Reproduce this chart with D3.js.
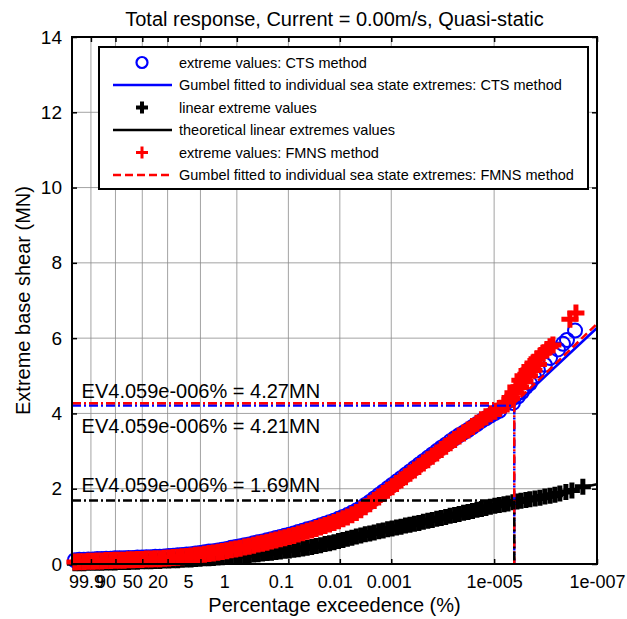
<!DOCTYPE html>
<html>
<head>
<meta charset="utf-8">
<script src="https://d3js.org/d3.v7.min.js"></script>
<style>
  body { margin: 0; background: #fff; }
  svg { font-family: "Liberation Sans", Arial, Helvetica, sans-serif; }
  .tick text { white-space: pre; }
</style>
</head>
<body>
<svg id="chart" width="627" height="619"></svg>
<script>
// x values are Gumbel reduced variates, -ln(-ln(1 - p/100))
const denseX = [
  -2.65,-2.45,-2.25,-2.05,-1.85,-1.65,-1.45,-1.25,-1.05,-0.85,
  -0.65,-0.45,-0.25,-0.05,0.15,0.35,0.55,0.75,0.95,1.15,
  1.35,1.55,1.75,1.95,2.15,2.35,2.55,2.75,2.95,3.15,
  3.35,3.55,3.75,3.95,4.15,4.35,4.55,4.75,4.95,5.15,
  5.35,5.55,5.75,5.95,6.15,6.35,6.55,6.75,6.95,7.15,
  7.35,7.55,7.75,7.95,8.15,8.35,8.55,8.75,8.95,9.15,
  9.35,9.55,9.75,9.95,10.15,10.35,10.55,10.75,10.95,11.15,
  11.35,11.55,11.75,11.95,12.15,12.35,12.55,12.75,12.95,13.15,
  13.35,13.55,13.75,13.95,14.15,14.35,14.55,14.75,14.95,15.15,
  15.35,15.55,15.75,15.95,16.15,16.35
];
const ctsValues = [
  0.10,0.11,0.11,0.12,0.12,0.13,0.13,0.14,0.14,0.15,
  0.15,0.15,0.16,0.16,0.17,0.17,0.18,0.18,0.19,0.19,
  0.20,0.21,0.22,0.23,0.24,0.25,0.26,0.28,0.29,0.31,
  0.33,0.34,0.36,0.38,0.40,0.43,0.45,0.47,0.50,0.52,
  0.55,0.58,0.60,0.63,0.66,0.69,0.72,0.75,0.78,0.81,
  0.85,0.88,0.92,0.95,0.99,1.03,1.07,1.11,1.15,1.20,
  1.25,1.30,1.36,1.42,1.49,1.57,1.65,1.74,1.83,1.92,
  2.01,2.10,2.19,2.28,2.37,2.46,2.55,2.64,2.73,2.82,
  2.91,3.00,3.09,3.17,3.26,3.34,3.42,3.49,3.56,3.64,
  3.72,3.80,3.87,3.94,4.01,4.07
];
const fmnsValues = [
  0.05,0.06,0.06,0.07,0.07,0.08,0.08,0.09,0.09,0.10,
  0.10,0.10,0.11,0.11,0.12,0.12,0.13,0.13,0.14,0.14,
  0.15,0.16,0.17,0.18,0.19,0.20,0.21,0.23,0.24,0.26,
  0.28,0.29,0.31,0.33,0.35,0.38,0.40,0.42,0.45,0.47,
  0.50,0.53,0.55,0.58,0.61,0.64,0.67,0.70,0.73,0.76,
  0.80,0.83,0.87,0.90,0.94,0.98,1.02,1.06,1.10,1.15,
  1.20,1.25,1.31,1.37,1.44,1.52,1.60,1.69,1.78,1.87,
  1.96,2.05,2.14,2.23,2.32,2.41,2.50,2.59,2.68,2.77,
  2.86,2.95,3.04,3.13,3.22,3.31,3.40,3.48,3.56,3.65,
  3.74,3.83,3.91,3.99,4.06,4.13
];
const linearValues = [
  0.02,0.02,0.02,0.03,0.03,0.03,0.03,0.04,0.04,0.04,
  0.05,0.05,0.05,0.06,0.06,0.07,0.07,0.07,0.08,0.08,
  0.09,0.09,0.10,0.10,0.11,0.12,0.12,0.13,0.14,0.15,
  0.15,0.16,0.17,0.18,0.19,0.20,0.21,0.22,0.23,0.24,
  0.25,0.26,0.28,0.29,0.30,0.32,0.33,0.35,0.36,0.38,
  0.39,0.41,0.43,0.45,0.48,0.50,0.53,0.55,0.58,0.61,
  0.64,0.67,0.70,0.73,0.76,0.79,0.81,0.84,0.87,0.89,
  0.92,0.94,0.97,0.99,1.02,1.04,1.07,1.09,1.12,1.15,
  1.17,1.20,1.22,1.25,1.28,1.30,1.33,1.36,1.38,1.41,
  1.44,1.46,1.49,1.52,1.55,1.57
];

// sparse upper tails
const ctsTailX = [16.96,17.18,17.36,17.54,17.72,17.90,18.08,18.39,18.62,18.98,19.20,19.38,19.74];
const ctsTailValues = [4.28,4.45,4.57,4.70,4.80,4.98,5.15,5.29,5.47,5.70,5.85,5.95,6.20];
const fmnsTailX = [16.56,16.69,16.70,16.83,16.90,16.96,17.09,17.10,17.27,17.30,17.41,17.50,17.59,17.70,17.72,17.86,17.90,18.04,18.10,18.17,18.30,18.48,18.62,18.75,19.51,19.78];
const fmnsTailValues = [4.22,4.30,4.25,4.42,4.40,4.55,4.70,4.55,4.88,4.70,5.00,4.85,5.14,5.00,5.25,5.34,5.15,5.45,5.30,5.52,5.60,5.70,5.77,5.82,6.50,6.67];
const linearTailX = [16.56,16.74,16.96,17.14,17.32,17.54,17.72,17.95,18.17,18.39,18.62,18.84,19.06,19.33,19.60,20.09];
const linearTailValues = [1.59,1.61,1.64,1.66,1.68,1.70,1.72,1.74,1.76,1.79,1.81,1.84,1.87,1.91,1.95,2.05];

// fitted / theoretical curves
const fitX = [-2.78,-1,1,3,5,7,9,11,13,14.5,15.27,16,17.02,18.5,20.72];
const ctsFit = [0.07,0.11,0.15,0.26,0.47,0.74,1.08,1.76,2.68,3.30,3.60,3.90,4.21,5.04,6.27];
const fmnsFit = [0.06,0.10,0.14,0.25,0.47,0.74,1.08,1.77,2.70,3.34,3.66,3.95,4.27,5.11,6.38];
const linearTheory = [0.02,0.04,0.08,0.14,0.23,0.36,0.59,0.88,1.15,1.34,1.44,1.54,1.69,1.84,2.12];

// extreme value at the target exceedance
const evPct = 4.059e-6;
const evPctLabel = "4.059e-006";
const evCts = 4.21, evFmns = 4.27, evLinear = 1.69;

const xTickPct = [99.9, 90, 50, 20, 5, 1, 0.1, 0.01, 0.001, 1e-5, 1e-7];
const xTickLabels = ["99.9","90","50","20","5","1","0.1","0.01","0.001","1e-005","1e-007"];
const yTicks = [0, 2, 4, 6, 8, 10, 12, 14];

const legendLabels = [
  "extreme values: CTS method",
  "Gumbel fitted to individual sea state extremes: CTS method",
  "linear extreme values",
  "theoretical linear extremes values",
  "extreme values: FMNS method",
  "Gumbel fitted to individual sea state extremes: FMNS method"
];

const gumbel = (pct) => -Math.log(-Math.log1p(-pct / 100));

const margin = { top: 37, right: 30, bottom: 55, left: 72 };
const width = 627, height = 619;
const svg = d3.select("#chart");

const x = d3.scaleLinear()
  .domain([gumbel(99.99999), gumbel(1e-7)])
  .range([margin.left, width - margin.right]);
const y = d3.scaleLinear()
  .domain([0, 14])
  .range([height - margin.bottom, margin.top]);

const BLUE = "#0000ff", RED = "#ff0000", BLACK = "#000";
const DASHDOT = "9,3,2,3";

// grid
const grid = svg.append("g").attr("stroke", "#8c8c8c").attr("stroke-width", 0.8);
grid.selectAll(".gx").data(xTickPct.slice(0, -1)).join("line")
  .attr("x1", d => x(gumbel(d))).attr("x2", d => x(gumbel(d)))
  .attr("y1", y(0)).attr("y2", y(14));
grid.selectAll(".gy").data(yTicks.slice(1, -1)).join("line")
  .attr("x1", x.range()[0]).attr("x2", x.range()[1])
  .attr("y1", d => y(d)).attr("y2", d => y(d));

const plusPath = h => `M${-h},0H${h}M0,${-h}V${h}`;
const zip = (xs, vs) => xs.map((d, i) => [d, vs[i]]);
const line = d3.line().x(d => x(d[0])).y(d => y(d[1]));

const plot = svg.append("g");

// CTS circles
plot.append("g").selectAll("circle")
  .data(zip(denseX, ctsValues).concat(zip(ctsTailX, ctsTailValues)))
  .join("circle")
  .attr("cx", d => x(d[0])).attr("cy", d => y(d[1])).attr("r", 7)
  .attr("fill", "none").attr("stroke", BLUE).attr("stroke-width", 2);

plot.append("path").datum(zip(fitX, ctsFit)).attr("d", line)
  .attr("fill", "none").attr("stroke", BLUE).attr("stroke-width", 2.5);

// linear markers
plot.append("g").selectAll("path")
  .data(zip(denseX, linearValues).concat(zip(linearTailX, linearTailValues)))
  .join("path")
  .attr("transform", d => `translate(${x(d[0])},${y(d[1])})`)
  .attr("d", plusPath(8)).attr("stroke", BLACK).attr("stroke-width", 5);

plot.append("path").datum(zip(fitX, linearTheory)).attr("d", line)
  .attr("fill", "none").attr("stroke", BLACK).attr("stroke-width", 2.5);

// FMNS markers
plot.append("g").selectAll("path")
  .data(zip(denseX, fmnsValues).concat(zip(fmnsTailX, fmnsTailValues)))
  .join("path")
  .attr("transform", d => `translate(${x(d[0])},${y(d[1])})`)
  .attr("d", plusPath(8.5)).attr("stroke", RED).attr("stroke-width", 5);

plot.append("path").datum(zip(fitX, fmnsFit)).attr("d", line)
  .attr("fill", "none").attr("stroke", RED).attr("stroke-width", 2.5)
  .attr("stroke-dasharray", "8,4");

// EV reference lines
const evX = gumbel(evPct);
const evs = [
  { v: evCts, color: BLUE, dy: 27 },
  { v: evFmns, color: RED, dy: -5 },
  { v: evLinear, color: BLACK, dy: -8 }
];
evs.forEach(e => {
  svg.append("path")
    .attr("d", `M${x.range()[0]},${y(e.v)}H${x(evX)}`)
    .attr("stroke", e.color).attr("stroke-width", 2.5).attr("fill", "none")
    .attr("stroke-dasharray", DASHDOT);
});
evs.forEach(e => {
  svg.append("path")
    .attr("d", `M${x(evX)},${y(e.v)}V${y(0)}`)
    .attr("stroke", e.color).attr("stroke-width", 2.5).attr("fill", "none")
    .attr("stroke-dasharray", DASHDOT);
});
svg.append("g").selectAll("text").data(evs).join("text")
  .attr("x", x(-2.35)).attr("y", d => y(d.v) + d.dy)
  .attr("font-size", 20)
  .text(d => `EV${evPctLabel}% = ${d.v.toFixed(2)}MN`);

// axes
const xAxis = d3.axisBottom(x)
  .tickValues(xTickPct.map(gumbel))
  .tickFormat((d, i) => xTickLabels[i].padEnd(6, " "))
  .tickSizeInner(-5).tickSizeOuter(0).tickPadding(11);
const gx = svg.append("g").attr("transform", `translate(0,${y(0)})`).call(xAxis);
gx.selectAll("text").attr("font-size", 18).attr("fill", "#000").attr("xml:space", "preserve");

svg.append("g").attr("transform", `translate(0,${y(14)})`)
  .call(d3.axisTop(x).tickValues(xTickPct.map(gumbel)).tickFormat("").tickSizeInner(-5).tickSizeOuter(0));

const yAxis = d3.axisLeft(y).tickValues(yTicks).tickSizeInner(-5).tickSizeOuter(0).tickPadding(10);
const gy = svg.append("g").attr("transform", `translate(${x.range()[0]},0)`).call(yAxis);
gy.selectAll("text").attr("font-size", 19).attr("fill", "#000");

svg.append("g").attr("transform", `translate(${x.range()[1]},0)`)
  .call(d3.axisRight(y).tickValues(yTicks).tickFormat("").tickSizeInner(-5).tickSizeOuter(0));

svg.selectAll(".domain").remove();
svg.selectAll(".tick line").attr("stroke", "#000").attr("stroke-width", 1.5);

svg.append("rect")
  .attr("x", x.range()[0]).attr("y", y(14))
  .attr("width", x.range()[1] - x.range()[0]).attr("height", y(0) - y(14))
  .attr("fill", "none").attr("stroke", "#000").attr("stroke-width", 2);

// titles
svg.append("text").attr("x", (x.range()[0] + x.range()[1]) / 2).attr("y", 26)
  .attr("text-anchor", "middle").attr("font-size", 20)
  .text("Total response, Current = 0.00m/s, Quasi-static");
svg.append("text").attr("x", (x.range()[0] + x.range()[1]) / 2).attr("y", 612)
  .attr("text-anchor", "middle").attr("font-size", 20)
  .text("Percentage exceedence (%)");
svg.append("text").attr("transform", `translate(30,${(y(0) + y(14)) / 2}) rotate(-90)`)
  .attr("text-anchor", "middle").attr("font-size", 20)
  .text("Extreme base shear (MN)");

// legend
const lg = svg.append("g").attr("transform", "translate(99,47)");
lg.append("rect").attr("width", 489).attr("height", 142)
  .attr("fill", "#fff").attr("stroke", "#000").attr("stroke-width", 2);
const rowY = i => 15.5 + i * 22.5;
lg.selectAll("text").data(legendLabels).join("text")
  .attr("x", 80).attr("y", (d, i) => rowY(i) + 5)
  .attr("font-size", 14.5).text(d => d);
lg.append("circle").attr("cx", 43).attr("cy", rowY(0)).attr("r", 5.5)
  .attr("fill", "none").attr("stroke", BLUE).attr("stroke-width", 2.2);
lg.append("path").attr("d", `M14,${rowY(1)}H73`).attr("stroke", BLUE).attr("stroke-width", 2.5);
lg.append("path").attr("transform", `translate(43,${rowY(2)})`).attr("d", plusPath(6))
  .attr("stroke", BLACK).attr("stroke-width", 4);
lg.append("path").attr("d", `M14,${rowY(3)}H73`).attr("stroke", BLACK).attr("stroke-width", 2.5);
lg.append("path").attr("transform", `translate(43,${rowY(4)})`).attr("d", plusPath(6))
  .attr("stroke", RED).attr("stroke-width", 3);
lg.append("path").attr("d", `M14,${rowY(5)}H73`).attr("stroke", RED).attr("stroke-width", 2.5)
  .attr("stroke-dasharray", "8,4");
</script>
</body>
</html>
